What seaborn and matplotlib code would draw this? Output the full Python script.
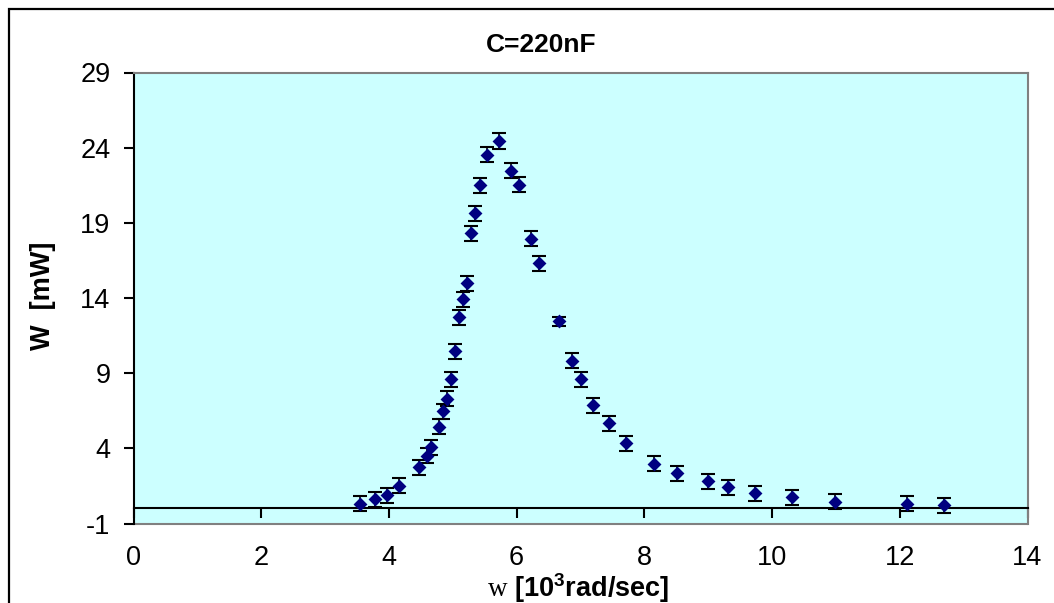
import matplotlib
matplotlib.use("Agg")
import matplotlib.pyplot as plt
import seaborn as sns
import pandas as pd
from matplotlib.patches import Rectangle
from matplotlib.lines import Line2D

# ---- data ----
omega = [3.54, 3.78, 3.97, 4.16, 4.47, 4.59, 4.66, 4.78, 4.85, 4.91, 4.97, 5.03,
         5.10, 5.16, 5.22, 5.28, 5.35, 5.42, 5.54, 5.73, 5.91, 6.04, 6.22, 6.35,
         6.66, 6.86, 7.01, 7.20, 7.45, 7.71, 8.15, 8.51, 8.99, 9.31, 9.74, 10.31,
         10.99, 12.12, 12.69]
power = [0.33, 0.62, 0.88, 1.50, 2.73, 3.50, 4.06, 5.43, 6.48, 7.30, 8.61, 10.47,
         12.71, 13.93, 14.98, 18.31, 19.64, 21.50, 23.52, 24.43, 22.46, 21.52, 17.93, 16.31,
         12.45, 9.83, 8.61, 6.86, 5.66, 4.33, 2.99, 2.33, 1.80, 1.40, 1.00, 0.73,
         0.46, 0.33, 0.20]
power_err = [0.48, 0.5, 0.5, 0.5, 0.5, 0.5, 0.5, 0.5, 0.5, 0.5, 0.5, 0.5,
             0.5, 0.5, 0.5, 0.5, 0.5, 0.5, 0.5, 0.53, 0.5, 0.5, 0.5, 0.5,
             0.3, 0.5, 0.5, 0.5, 0.5, 0.5, 0.5, 0.5, 0.5, 0.5, 0.5, 0.53,
             0.5, 0.5, 0.5]
x_ticks = [0, 2, 4, 6, 8, 10, 12, 14]
y_ticks = [-1, 4, 9, 14, 19, 24, 29]
title = "C=220nF"
y_label = "W  [mW]"
x_label = r"$\mathrm{w}$ [10$^{\mathbf{3}}$rad/sec]"

df = pd.DataFrame({"omega": omega, "power": power, "err": power_err})

sns.set_style("white")
plt.rcParams["font.family"] = ["Liberation Sans", "DejaVu Sans"]
plt.rcParams["mathtext.fontset"] = "custom"
plt.rcParams["mathtext.rm"] = "Liberation Serif"
plt.rcParams["mathtext.bf"] = "Liberation Sans:bold"
plt.rcParams["mathtext.default"] = "bf"
plt.rcParams["axes.unicode_minus"] = False
plt.rcParams["text.color"] = "black"
plt.rcParams["xtick.color"] = "black"
plt.rcParams["ytick.color"] = "black"

W, H = 1054, 603
fig = plt.figure(figsize=(W / 100, H / 100), dpi=100)
fig.patch.set_facecolor("white")
ax = fig.add_axes([133.5 / W, 1 - 523.5 / H, 894 / W, 451 / H])
ax.set_facecolor("#CCFFFF")

ax.errorbar(df["omega"], df["power"], yerr=df["err"], fmt="none",
            ecolor="black", elinewidth=1.2, capsize=5.2, capthick=1.5, zorder=2)
sns.scatterplot(data=df, x="omega", y="power", ax=ax, marker="D", s=50,
                color="#000080", edgecolor="#000080", linewidth=0, zorder=3,
                legend=False)

ax.set_xlim(0, 14)
ax.set_ylim(-1, 29)
ax.set_xticks(x_ticks)
ax.set_yticks(y_ticks)
ax.set_xlabel("")
ax.set_ylabel("")

for s in ["top", "right"]:
    ax.spines[s].set_color("#808080")
    ax.spines[s].set_linewidth(1.5)
ax.spines["left"].set_color("black")
ax.spines["left"].set_linewidth(1.5)
ax.spines["bottom"].set_position(("data", 0))
ax.spines["bottom"].set_color("black")
ax.spines["bottom"].set_linewidth(1.5)
# grey plot-area border at the bottom
ax.add_line(Line2D([0, 1], [0, 0], transform=ax.transAxes, color="#808080",
                   lw=1.5, clip_on=False, zorder=1))

ax.tick_params(axis="x", direction="out", length=7.5, width=1.5, color="black",
               labelcolor="black", pad=19, labelsize=19.5)
ax.tick_params(axis="y", direction="out", length=7.5, width=1.5, color="black",
               labelcolor="black", pad=9, labelsize=19.5)
ax.tick_params(axis="x", bottom=True)
ax.tick_params(axis="y", left=True)

fig.text(541 / W, 1 - 52.5 / H, title, ha="center", va="baseline",
         fontsize=19, fontweight="bold", color="black")
fig.text(43 / W, 1 - 296 / H, y_label, ha="center", va="center", rotation=90,
         fontsize=19.5, fontweight="bold", color="black")
fig.text(578 / W, 1 - 597 / H, x_label, ha="center", va="baseline",
         fontsize=19.5, fontweight="bold", color="black")

# chart-area border (top and left visible in the reference)
fig.add_artist(Rectangle((9 / W, -0.5), 2.0, (1 - 9 / H) + 0.5,
                         transform=fig.transFigure, fill=False,
                         edgecolor="black", linewidth=1.6))

fig.savefig("out.png", dpi=100)
